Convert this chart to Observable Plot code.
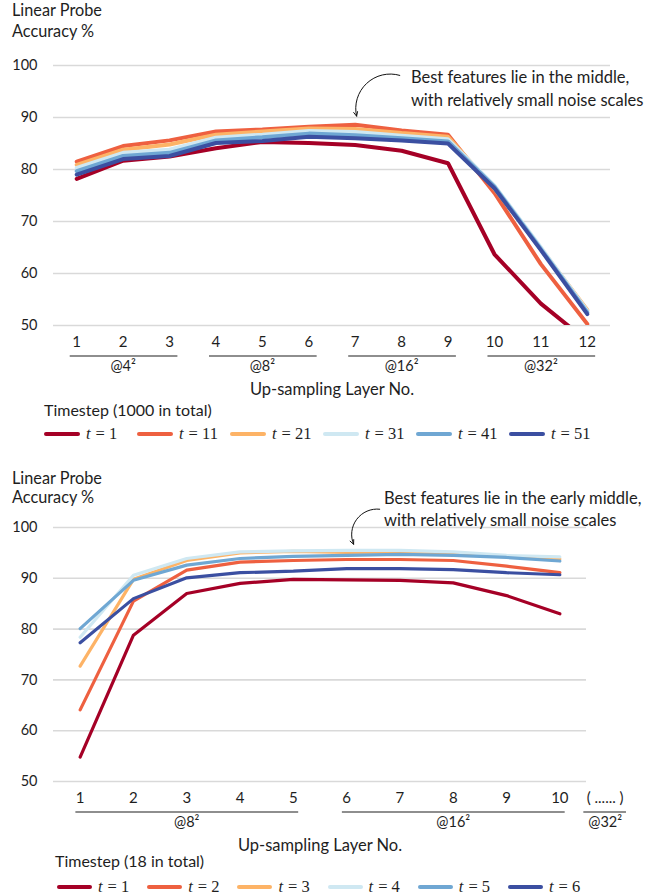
<!DOCTYPE html>
<html><head><meta charset="utf-8">
<script src="https://cdn.jsdelivr.net/npm/d3@7"></script>
<script src="https://cdn.jsdelivr.net/npm/@observablehq/plot@0.6"></script>
<style>
body{margin:0;background:#fff;}
#page{position:relative;width:650px;height:896px;font-family:Lato,"Open Sans",sans-serif;color:#1e1e1e;overflow:hidden;background:#fff}
.t{position:absolute;font-size:16.3px;line-height:18px;white-space:nowrap}
.chart{position:absolute;left:0}
.item{position:absolute;display:flex;align-items:center;height:20px}
.sw{height:4px;border-radius:2px;margin-right:6px}
.lab{font-family:"Liberation Serif",serif;font-size:16.5px;white-space:nowrap}
.lab i{margin-right:5px}
</style></head>
<body><div id="page"></div>
<script>
// ---------- data ----------
const yTicks = [50, 60, 70, 80, 90, 100];
const seriesColors = ["#a50026", "#ee6040", "#fdb366", "#cfe8f2", "#6fa7d3", "#3b4fa1"];

// Top chart (1000 timesteps in total)
const topLayers = [1, 2, 3, 4, 5, 6, 7, 8, 9, 10, 11, 12];
const topKeys = ["1", "11", "21", "31", "41", "51"];
const topT1  = [78.2, 81.7, 82.5, 84.1, 85.3, 85.1, 84.7, 83.6, 81.2, 63.7, 54.2, 47.0];
const topT11 = [81.5, 84.5, 85.6, 87.3, 87.7, 88.2, 88.6, 87.5, 86.7, 75.5, 61.8, 50.3];
const topT21 = [80.9, 83.8, 84.8, 86.7, 87.3, 87.9, 87.8, 87.0, 86.3, 76.3, 64.8, 53.0];
const topT31 = [80.3, 83.2, 83.8, 86.1, 86.7, 87.4, 87.2, 86.5, 85.8, 76.9, 65.0, 52.8];
const topT41 = [79.7, 82.6, 83.2, 85.6, 86.2, 86.9, 86.6, 86.0, 85.4, 76.7, 64.7, 52.5];
const topT51 = [79.0, 82.0, 82.6, 85.1, 85.5, 86.3, 86.0, 85.6, 85.0, 76.4, 64.5, 52.2];
const topTickLabels = ["1","2","3","4","5","6","7","8","9","10","11","12"];
const topGroups = [
  {label: "@4²", first: 1, last: 3},
  {label: "@8²", first: 4, last: 6},
  {label: "@16²", first: 7, last: 9},
  {label: "@32²", first: 10, last: 12}
];
const topNote = ["Best features lie in the middle,", "with relatively small noise scales"];

// Bottom chart (18 timesteps in total)
const botLayers = [1, 2, 3, 4, 5, 6, 7, 8, 9, 10];
const botKeys = ["1", "2", "3", "4", "5", "6"];
const botT1 = [54.8, 78.8, 87.0, 89.0, 89.8, 89.7, 89.6, 89.1, 86.6, 83.0];
const botT2 = [64.1, 85.5, 91.6, 93.2, 93.5, 93.7, 93.7, 93.5, 92.4, 91.1];
const botT3 = [72.7, 89.8, 93.5, 95.0, 95.3, 95.1, 95.2, 94.9, 94.3, 93.8];
const botT4 = [78.4, 90.6, 93.9, 95.2, 95.4, 95.5, 95.5, 95.2, 94.5, 94.2];
const botT5 = [80.1, 89.6, 92.6, 93.9, 94.3, 94.5, 94.7, 94.5, 94.1, 93.4];
const botT6 = [77.3, 86.0, 90.1, 91.1, 91.4, 91.9, 91.9, 91.7, 91.1, 90.7];
const botTickPos = [1, 2, 3, 4, 5, 6, 7, 8, 9, 10, 10.85];
const botTickLabels = ["1","2","3","4","5","6","7","8","9","10","( ...... )"];
const botGroups = [
  {label: "@8²", first: 1, last: 5},
  {label: "@16²", first: 6, last: 10},
  {label: "@32²", first: 10.85, last: 10.85}
];
const botNote = ["Best features lie in the early middle,", "with relatively small noise scales"];

const xLabel = "Up-sampling Layer No.";
const yLabel = ["Linear Probe", "Accuracy %"];

// ---------- helpers ----------
const page = document.getElementById("page");
function addText(txt, left, top, extra) {
  const d = document.createElement("div");
  d.className = "t"; d.textContent = txt;
  d.style.left = left + "px"; d.style.top = top + "px";
  if (extra) Object.assign(d.style, extra);
  page.appendChild(d);
}

function makeChart(cfg) {
  const long = [];
  cfg.series.forEach((vals, si) => cfg.layers.forEach((l, i) =>
    long.push({layer: l, acc: vals[i], key: cfg.keys[si]})));
  const yMin = yTicks[0];
  return Plot.plot({
    width: 650, height: cfg.height,
    marginLeft: 53, marginRight: cfg.marginRight, marginTop: cfg.marginTop, marginBottom: cfg.marginBottom,
    x: {domain: cfg.xDomain, axis: null},
    y: {domain: [yMin, yTicks[yTicks.length - 1]], axis: null},
    color: {domain: cfg.keys, range: seriesColors},
    style: {fontFamily: "Lato, 'Open Sans', sans-serif", fontSize: "14.5px", color: "#1e1e1e", overflow: "visible", background: "transparent"},
    marks: [
      Plot.gridY(yTicks, {stroke: "#d9d9d9", strokeOpacity: 1, strokeWidth: 1.6}),
      Plot.axisY(yTicks, {tickSize: 0, tickPadding: 16, label: null, fontSize: 14.5}),
      Plot.line(long, {x: "layer", y: "acc", z: "key", stroke: "key", strokeWidth: cfg.strokeWidth, clip: true, strokeLinejoin: "miter"}),
      Plot.text(cfg.tickPos, {x: d => d, text: (d, i) => cfg.tickLabels[i], frameAnchor: "bottom", dy: 21, fontSize: 15}),
      Plot.ruleY(cfg.groups, {
        x1: d => d.first - (d.first === d.last ? 0.4 : cfg.padL),
        x2: d => d.last + (d.first === d.last ? 0.4 : cfg.padR),
        y: () => yMin, dy: 30.5, stroke: "#1e1e1e", strokeWidth: 1.2
      }),
      Plot.text(cfg.groups, {x: d => (d.first + d.last) / 2, text: "label", frameAnchor: "bottom", dy: 45, fontSize: 14.5}),
      Plot.text([xLabel], {text: d => d, frameAnchor: "bottom", dy: 69.5, fontSize: 16.5}),
      Plot.text([cfg.note.join("\n")], {x: cfg.noteAt[0], y: cfg.noteAt[1], text: d => d, textAnchor: "start", lineAnchor: "middle", lineHeight: 1.35, fontSize: 16.5}),
      Plot.arrow([cfg.arrow], {x1: "x1", y1: "y1", x2: "x2", y2: "y2", bend: cfg.bend, headLength: 7, headAngle: 50, stroke: "#111", strokeWidth: 1})
    ]
  });
}

function addLegend(title, titleLeft, titleTop, keys, startX, step, top, swW) {
  addText(title, titleLeft, titleTop, {fontSize: "16px"});
  keys.forEach((k, i) => {
    const it = document.createElement("div");
    it.className = "item";
    it.style.left = (startX + i * step) + "px";
    it.style.top = top + "px";
    const sw = document.createElement("div");
    sw.className = "sw"; sw.style.width = swW + "px"; sw.style.background = seriesColors[i];
    const lab = document.createElement("span");
    lab.className = "lab";
    lab.innerHTML = "<i>t</i>= " + k;
    it.appendChild(sw); it.appendChild(lab);
    page.appendChild(it);
  });
}

// ---------- top chart ----------
addText(yLabel[0], 12, 1);
addText(yLabel[1], 12, 22);
const c1 = makeChart({
  layers: topLayers, keys: topKeys,
  series: [topT1, topT11, topT21, topT31, topT41, topT51],
  xDomain: [0.5, 12.5], marginRight: 40, marginTop: 25, marginBottom: 77, height: 362,
  strokeWidth: 4, tickPos: topLayers, tickLabels: topTickLabels, groups: topGroups,
  padL: 0.14, padR: 0.18,
  note: topNote, noteAt: [8.2, 95.8],
  arrow: {x1: 7.96, y1: 98.1, x2: 7.03, y2: 90.25}, bend: -60
});
c1.classList.add("chart"); c1.style.top = "40px";
page.appendChild(c1);
addLegend("Timestep (1000 in total)", 44, 401, topKeys, 44, 93, 424, 36);

// ---------- bottom chart ----------
addText(yLabel[0], 12, 469);
addText(yLabel[1], 12, 488);
const c2 = makeChart({
  layers: botLayers, keys: botKeys,
  series: [botT1, botT2, botT3, botT4, botT5, botT6],
  xDomain: [0.5, 10.5], marginRight: 64, marginTop: 47, marginBottom: 76, height: 377,
  strokeWidth: 3.2, tickPos: botTickPos, tickLabels: botTickLabels, groups: botGroups,
  padL: 0.08, padR: 0.1,
  note: botNote, noteAt: [6.7, 103.9],
  arrow: {x1: 6.62, y1: 103.6, x2: 6.13, y2: 96.7}, bend: -60
});
c2.classList.add("chart"); c2.style.top = "480px";
page.appendChild(c2);
addLegend("Timestep (18 in total)", 55, 852, botKeys, 57, 90.2, 877, 35);
</script>
</body></html>
